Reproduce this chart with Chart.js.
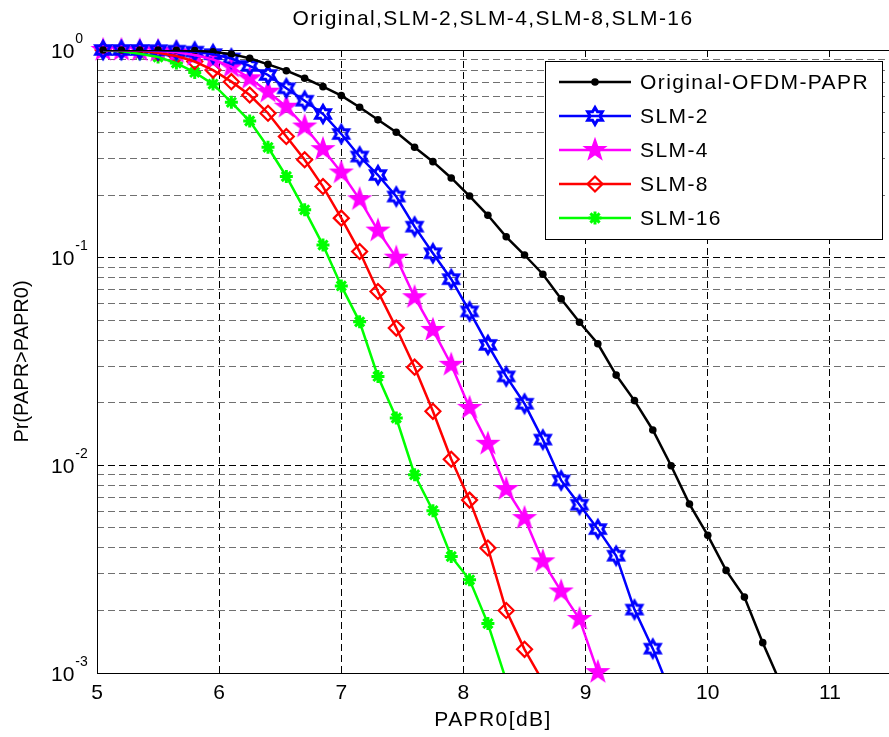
<!DOCTYPE html>
<html>
<head>
<meta charset="utf-8">
<script src="https://cdn.jsdelivr.net/npm/chart.js@4/dist/chart.umd.min.js"></script>
<style>
  html, body { margin: 0; padding: 0; background: #fff; overflow: hidden; }
  #wrap { width: 1000px; height: 737px; }
</style>
</head>
<body>
<div id="wrap"><canvas id="chart" width="901" height="737"></canvas></div>
<script>
const TITLE = 'Original,SLM-2,SLM-4,SLM-8,SLM-16';
const X_LABEL = 'PAPR0[dB]';
const Y_LABEL = 'Pr(PAPR>PAPR0)';

// PAPR0 sample points (dB)
const PAPR0 = [5.05, 5.2, 5.35, 5.5, 5.65, 5.8, 5.95, 6.1, 6.25, 6.4, 6.55, 6.7, 6.85,
  7.0, 7.15, 7.3, 7.45, 7.6, 7.75, 7.9, 8.05, 8.2, 8.35, 8.5, 8.65, 8.8, 8.95,
  9.1, 9.25, 9.4, 9.55, 9.7, 9.85, 10.0, 10.15, 10.3, 10.45, 10.6];

// CCDF values, one per PAPR0 point (series stop once they leave the axis)
const ORIGINAL = [1.0, 1.0, 1.0, 0.999, 0.998, 0.993, 0.98, 0.955, 0.912, 0.853, 0.795, 0.731, 0.666,
  0.603, 0.530, 0.461, 0.402, 0.340, 0.290, 0.242, 0.198, 0.160, 0.126, 0.103, 0.0832, 0.0633, 0.0489,
  0.0385, 0.0272, 0.0205, 0.0148, 0.00995, 0.00651, 0.00460, 0.00312, 0.00232, 0.00140, 0.00088];
const SLM2 = [1.0, 1.0, 1.0, 0.998, 0.993, 0.982, 0.955, 0.91, 0.838, 0.758, 0.654, 0.570, 0.492,
  0.394, 0.307, 0.250, 0.197, 0.141, 0.105, 0.0788, 0.0551, 0.0380, 0.0268, 0.0198, 0.0133, 0.00846, 0.00646,
  0.00493, 0.00367, 0.00202, 0.00131, 0.00079];
const SLM4 = [1.0, 1.0, 0.997, 0.99, 0.975, 0.945, 0.90, 0.831, 0.731, 0.630, 0.533, 0.428, 0.333,
  0.257, 0.191, 0.135, 0.100, 0.0645, 0.0449, 0.0305, 0.0189, 0.0127, 0.00769, 0.00557, 0.00345, 0.00247, 0.00182,
  0.00101];
const SLM8 = [1.0, 0.997, 0.99, 0.97, 0.935, 0.88, 0.80, 0.704, 0.607, 0.496, 0.383, 0.296, 0.220,
  0.155, 0.107, 0.0687, 0.0458, 0.0297, 0.0182, 0.0107, 0.0068, 0.0040, 0.0020, 0.0013, 0.00091];
const SLM16 = [0.995, 0.985, 0.96, 0.925, 0.865, 0.78, 0.685, 0.56, 0.455, 0.34, 0.246, 0.17, 0.115,
  0.0731, 0.0491, 0.0268, 0.0169, 0.00901, 0.00605, 0.00364, 0.00281, 0.00173, 0.00092];

const X_TICKS = [5, 6, 7, 8, 9, 10, 11];
const Y_MAJOR = [0.001, 0.01, 0.1, 1];
const Y_TICK_LABELS = [['10', '-3'], ['10', '-2'], ['10', '-1'], ['10', '0']];
const Y_MINOR = [0.002, 0.003, 0.004, 0.005, 0.006, 0.007, 0.008, 0.009,
  0.02, 0.03, 0.04, 0.05, 0.06, 0.07, 0.08, 0.09,
  0.2, 0.3, 0.4, 0.5, 0.6, 0.7, 0.8, 0.9];

const FONT = '"Liberation Sans", Arial, Helvetica, sans-serif';
const X_MIN = 5, X_MAX = 11.5, Y_MIN = 0.001, Y_MAX = 1;
const PLOT_RIGHT = 891; // right edge of the axes, just past the picture

function starCanvas(points, outer, inner, fill, stroke, lw) {
  const size = Math.ceil(2 * outer + lw + 4);
  const c = document.createElement('canvas');
  c.width = size; c.height = size;
  const g = c.getContext('2d');
  g.translate(size / 2, size / 2);
  g.beginPath();
  for (let i = 0; i < points * 2; i++) {
    const r = i % 2 ? inner : outer;
    const a = -Math.PI / 2 + i * Math.PI / points;
    g.lineTo(r * Math.cos(a), r * Math.sin(a));
  }
  g.closePath();
  if (fill) { g.fillStyle = fill; g.fill(); }
  g.lineJoin = 'miter';
  g.lineWidth = lw; g.strokeStyle = stroke; g.stroke();
  return c;
}

const hexagram = starCanvas(6, 8.5, 4.9, null, '#0000ff', 3);
const pentagram = starCanvas(5, 11, 4.4, '#ff00ff', '#ff00ff', 1.5);

const series = [
  { label: 'Original-OFDM-PAPR', values: ORIGINAL, color: '#000000',
    marker: { pointStyle: 'circle', pointRadius: 3.8, pointBackgroundColor: '#000000', pointBorderColor: '#000000', pointBorderWidth: 0 } },
  { label: 'SLM-2', values: SLM2, color: '#0000ff',
    marker: { pointStyle: hexagram, pointRadius: 8, pointBackgroundColor: 'rgba(0,0,0,0)', pointBorderColor: '#0000ff', pointBorderWidth: 0 } },
  { label: 'SLM-4', values: SLM4, color: '#ff00ff',
    marker: { pointStyle: pentagram, pointRadius: 10, pointBackgroundColor: '#ff00ff', pointBorderColor: '#ff00ff', pointBorderWidth: 0 } },
  { label: 'SLM-8', values: SLM8, color: '#ff0000',
    marker: { pointStyle: 'rectRot', pointRadius: 7.5, pointBackgroundColor: 'rgba(0,0,0,0)', pointBorderColor: '#ff0000', pointBorderWidth: 2.2 } },
  { label: 'SLM-16', values: SLM16, color: '#00ff00',
    marker: { pointStyle: 'star', pointRadius: 6.5, pointBackgroundColor: '#00ff00', pointBorderColor: '#00ff00', pointBorderWidth: 3 } }
];

const datasets = [];
// lines first (clipped to the axes), then the markers on top
series.forEach(s => {
  datasets.push({
    label: s.label,
    data: s.values.map((v, i) => ({ x: PAPR0[i], y: v })),
    borderColor: s.color, borderWidth: 2.5, pointRadius: 0, fill: false,
    tension: 0, showLine: true, clip: 0
  });
});
series.forEach(s => {
  datasets.push(Object.assign({
    label: s.label + ' markers',
    isMarker: true,
    data: s.values.map((v, i) => ({ x: PAPR0[i], y: v })).filter(p => p.y >= Y_MIN),
    showLine: false, clip: false
  }, s.marker));
});

function isMajor(v) {
  const l = Math.log10(v);
  return Math.abs(l - Math.round(l)) < 1e-9;
}

const axesFrame = {
  id: 'axesFrame',
  beforeDatasetsDraw(chart) {
    const { ctx, chartArea: a } = chart;
    ctx.save();
    ctx.strokeStyle = '#000';
    ctx.lineWidth = 1;
    ctx.strokeRect(Math.round(a.left) + 0.5, Math.round(a.top) + 0.5,
      Math.round(a.right - a.left), Math.round(a.bottom - a.top));
    ctx.restore();
  },
  afterDraw(chart) {
    const { ctx, chartArea: a, scales: { y } } = chart;
    ctx.save();
    ctx.fillStyle = '#000';
    // y tick labels with raised exponents
    ctx.letterSpacing = '0px';
    ctx.textAlign = 'left';
    ctx.textBaseline = 'alphabetic';
    Y_MAJOR.forEach((v, i) => {
      const py = y.getPixelForValue(v);
      const [base, exp] = Y_TICK_LABELS[i];
      ctx.font = '21px ' + FONT;
      ctx.fillText(base, 51, py + 7.5);
      const w = ctx.measureText(base).width;
      ctx.font = '14px ' + FONT;
      ctx.fillText(exp, 51 + w + 1, py - 7.5);
    });
    // y axis title
    ctx.save();
    ctx.translate(22, (a.top + a.bottom) / 2);
    ctx.rotate(-Math.PI / 2);
    ctx.font = '20px ' + FONT;
    ctx.textAlign = 'center';
    ctx.textBaseline = 'middle';
    ctx.fillText(Y_LABEL, 0, 0);
    ctx.restore();
    // title and x axis title, set a little wider like the reference
    const cx = 493;
    ctx.letterSpacing = '1.4px';
    ctx.textAlign = 'center';
    ctx.textBaseline = 'middle';
    ctx.font = '21px ' + FONT;
    ctx.fillText(TITLE, cx, 19);
    ctx.fillText(X_LABEL, cx, 720);
    ctx.restore();
  }
};

const boxLegend = {
  id: 'boxLegend',
  afterDraw(chart) {
    const { ctx } = chart;
    const box = { left: 545, top: 61, right: 882, bottom: 239 };
    const rowY = [82, 116, 150, 184, 218];
    ctx.save();
    ctx.fillStyle = '#fff';
    ctx.fillRect(box.left, box.top, box.right - box.left, box.bottom - box.top);
    ctx.strokeStyle = '#000';
    ctx.lineWidth = 1;
    ctx.strokeRect(box.left + 0.5, box.top + 0.5, box.right - box.left, box.bottom - box.top);
    const lines = chart.data.datasets.filter(d => !d.isMarker);
    const marks = chart.data.datasets.filter(d => d.isMarker);
    lines.forEach((d, i) => {
      const yy = rowY[i];
      ctx.strokeStyle = d.borderColor;
      ctx.lineWidth = d.borderWidth;
      ctx.beginPath();
      ctx.moveTo(559, yy);
      ctx.lineTo(631, yy);
      ctx.stroke();
      const m = marks[i];
      ctx.fillStyle = m.pointBackgroundColor;
      ctx.strokeStyle = m.pointBorderColor;
      ctx.lineWidth = m.pointBorderWidth;
      Chart.helpers.drawPoint(ctx, {
        pointStyle: m.pointStyle, radius: m.pointRadius, rotation: 0, borderWidth: m.pointBorderWidth
      }, 595, yy);
      ctx.fillStyle = '#000';
      ctx.font = '21px ' + FONT;
      ctx.letterSpacing = '1.4px';
      ctx.textAlign = 'left';
      ctx.textBaseline = 'middle';
      ctx.fillText(d.label, 640, yy + 1);
    });
    ctx.restore();
  }
};

const chart = new Chart(document.getElementById('chart'), {
  type: 'line',
  data: { datasets },
  options: {
    responsive: false,
    maintainAspectRatio: false,
    animation: false,
    layout: { padding: { left: 0, right: 1, top: 50, bottom: 0 } },
    plugins: {
      legend: { display: false },
      tooltip: { enabled: false },
      title: { display: false }
    },
    scales: {
      x: {
        type: 'linear', min: X_MIN, max: X_MAX,
        afterBuildTicks: s => { s.ticks = X_TICKS.map(v => ({ value: v })); },
        afterFit: s => { s.height = 64; s.paddingLeft = 0; s.paddingRight = 0; },
        grid: { color: '#000', lineWidth: 1, drawTicks: false },
        border: { display: false, dash: [7, 4] },
        ticks: { color: '#000', padding: 7.4, font: { family: FONT, size: 21 }, maxRotation: 0,
          callback: v => String(v) },
        title: { display: false }
      },
      y: {
        type: 'logarithmic', min: Y_MIN, max: Y_MAX,
        afterBuildTicks: s => {
          s.ticks = Y_MAJOR.concat(Y_MINOR).sort((a, b) => a - b).map(v => ({ value: v }));
        },
        afterFit: s => { s.width = 97; s.paddingTop = 0; s.paddingBottom = 0; },
        grid: {
          color: c => (c.tick && isMajor(c.tick.value)) ? '#000' : '#707070',
          lineWidth: 1, drawTicks: false
        },
        border: { display: false, dash: [7, 4] },
        ticks: { display: false },
        title: { display: false }
      }
    }
  },
  plugins: [axesFrame, boxLegend]
});

// keep the axes ending just past the right edge of the picture
const extra = PLOT_RIGHT - chart.chartArea.right;
if (Math.abs(extra) > 0.5) {
  chart.resize(Math.round(chart.width + extra), 737);
}
</script>
</body>
</html>
